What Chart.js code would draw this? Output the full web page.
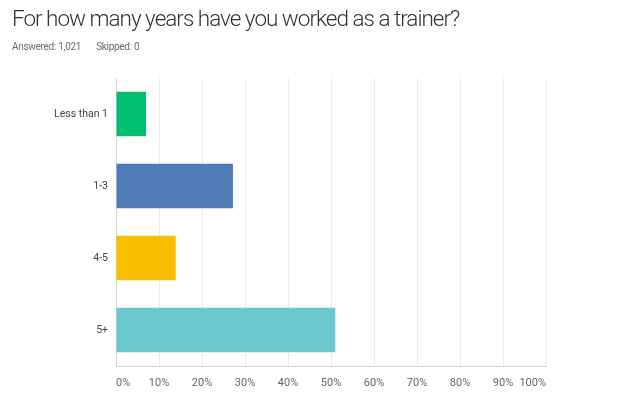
<!DOCTYPE html>
<html>
<head>
<meta charset="utf-8">
<script src="https://cdn.jsdelivr.net/npm/chart.js@4"></script>
<style>
  body { margin: 0; background: #fff; font-family: Roboto, "Liberation Sans", sans-serif; }
  #wrap { position: relative; width: 618px; height: 404px; }
  #title { position: absolute; left: 12px; top: 5px; font-size: 22.5px; font-weight: 300; letter-spacing: -1px; color: #333; white-space: nowrap; }
  #sub { position: absolute; left: 12px; top: 41px; font-size: 10px; letter-spacing: -0.3px; color: #6b6b6b; white-space: nowrap; }
  #sub span { margin-right: 15px; }
  canvas { position: absolute; left: 0; top: 0; }
</style>
</head>
<body>
<div id="wrap">
  <canvas id="myChart" width="618" height="404"></canvas>
  <div id="title">For how many years have you worked as a trainer?</div>
  <div id="sub"><span>Answered: 1,021</span>Skipped: 0</div>
</div>
<script>
let categories = ['Less than 1', '1-3', '4-5', '5+'];
let percents = [7.0, 27.2, 13.9, 51.0];
let barColors = ['#00bf6f', '#507cb6', '#f9be00', '#6bc8cd'];
let tickValues = [0, 10, 20, 30, 40, 50, 60, 70, 80, 90, 100];

// draw x tick labels ourselves so the first and last ones sit inside the axis ends
let xTickLabels = {
    id: 'xTickLabels',
    afterDraw(chart) {
        let ctx = chart.ctx;
        let xScale = chart.scales.x;
        ctx.save();
        ctx.font = '11px Roboto, "Liberation Sans", sans-serif';
        ctx.fillStyle = '#666';
        ctx.textBaseline = 'middle';
        tickValues.forEach((v, i) => {
            let px = xScale.getPixelForValue(v);
            ctx.textAlign = i === 0 ? 'left' : (i === tickValues.length - 1 ? 'right' : 'center');
            ctx.fillText(v + '%', px, 383);
        });
        ctx.restore();
    }
};

let ctx = document.getElementById('myChart').getContext('2d');

let myChart = new Chart(ctx, {
    type: 'bar',
    data: {
        labels: categories,
        datasets: [{
            data: percents,
            backgroundColor: barColors,
            borderWidth: 0,
            categoryPercentage: 1,
            barPercentage: 0.62
        }]
    },
    options: {
        indexAxis: 'y',
        responsive: false,
        animation: false,
        layout: { padding: { top: 78, right: 72, bottom: 0, left: 0 } },
        plugins: {
            legend: { display: false },
            tooltip: { enabled: false }
        },
        scales: {
            x: {
                min: 0,
                max: 100,
                afterFit: (s) => { s.height = 38; },
                afterBuildTicks: (s) => { s.ticks = tickValues.map(v => ({ value: v })); },
                ticks: { display: false },
                grid: { color: '#ebebeb', drawTicks: false },
                border: { color: '#d6d6d6' }
            },
            y: {
                afterFit: (s) => { s.width = 116; },
                ticks: {
                    padding: 8,
                    color: '#444',
                    font: { family: 'Roboto, "Liberation Sans", sans-serif', size: 10.5 }
                },
                grid: { display: false, drawTicks: false },
                border: { color: '#d6d6d6' }
            }
        }
    },
    plugins: [xTickLabels]
});
</script>
</body>
</html>
